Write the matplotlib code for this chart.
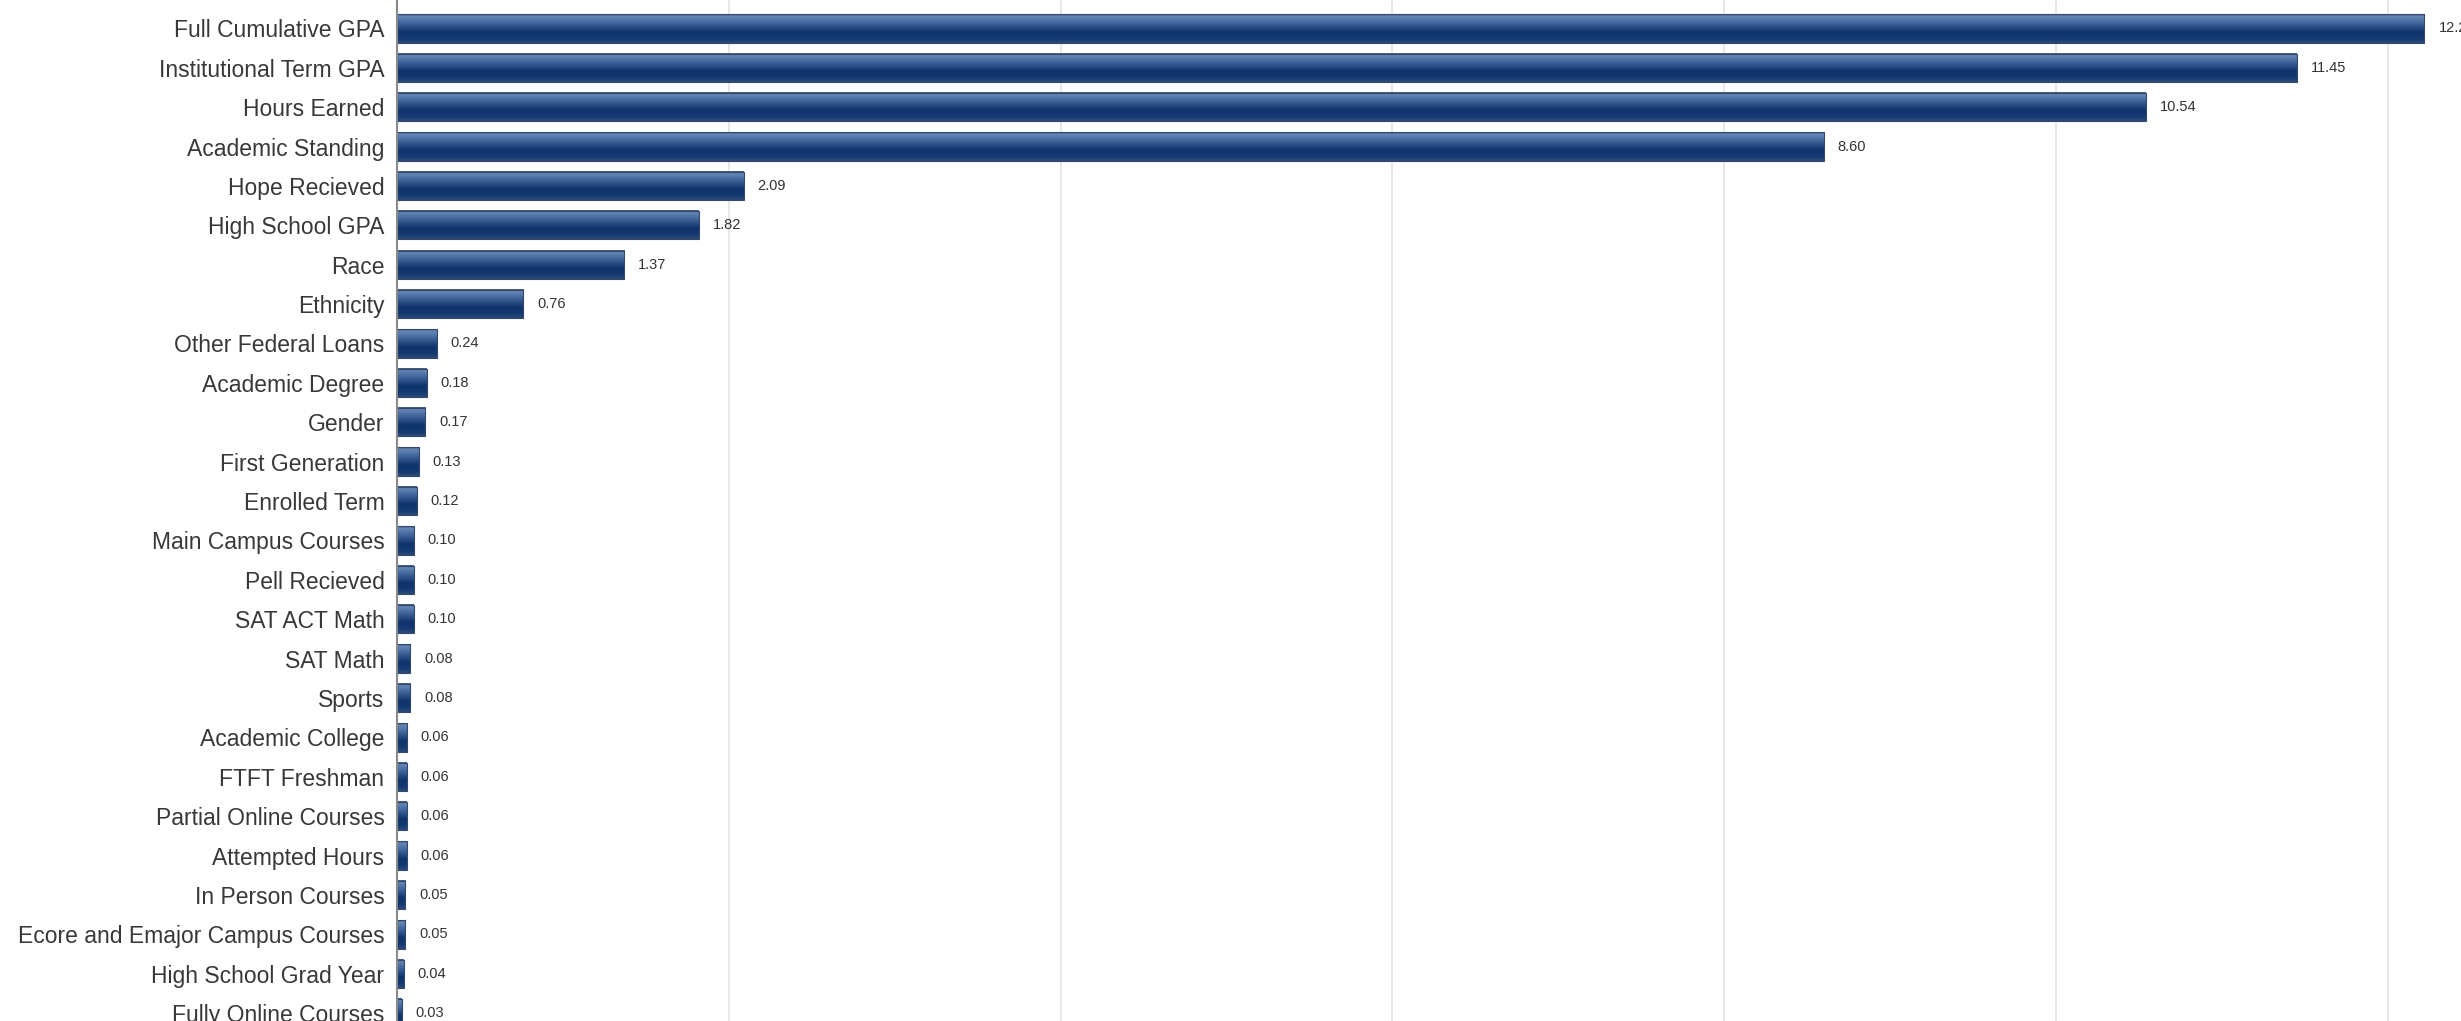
import numpy as np
import matplotlib
matplotlib.use('Agg')
import matplotlib.pyplot as plt
from matplotlib.colors import LinearSegmentedColormap

# Feature importance values
features = ['Full Cumulative GPA', 'Institutional Term GPA', 'Hours Earned', 'Academic Standing',
            'Hope Recieved', 'High School GPA', 'Race', 'Ethnicity', 'Other Federal Loans',
            'Academic Degree', 'Gender', 'First Generation', 'Enrolled Term', 'Main Campus Courses',
            'Pell Recieved', 'SAT ACT Math', 'SAT Math', 'Sports', 'Academic College',
            'FTFT Freshman', 'Partial Online Courses', 'Attempted Hours', 'In Person Courses',
            'Ecore and Emajor Campus Courses', 'High School Grad Year', 'Fully Online Courses']
importance = [12.22, 11.45, 10.54, 8.60, 2.09, 1.82, 1.37, 0.76, 0.24, 0.18, 0.17, 0.13, 0.12,
              0.10, 0.10, 0.10, 0.08, 0.08, 0.06, 0.06, 0.06, 0.06, 0.05, 0.05, 0.04, 0.03]
grid_ticks = [2, 4, 6, 8, 10, 12]

plt.rcParams['font.family'] = ['Liberation Sans', 'DejaVu Sans']

# vertical shading of the bars, top to bottom
bar_cmap = LinearSegmentedColormap.from_list('bar', [
    (0.0, '#3d5676'), (0.08, '#6688b6'), (0.3, '#41669b'),
    (0.62, '#0f336b'), (0.85, '#143a73'), (1.0, '#2d4b77')])

fig = plt.figure(figsize=(24.61, 10.21), dpi=100)
left = 397 / 2461
ax = fig.add_axes([left, 0, 1 - left, 1])

y = np.arange(len(features))
bars = ax.barh(y, importance, height=0.72, facecolor='none', edgecolor='#34496a',
               linewidth=0.8, zorder=3)

grad = np.linspace(0, 1, 256).reshape(-1, 1)
for b in bars:
    x0, y0 = b.get_xy()
    w, h = b.get_width(), b.get_height()
    ax.imshow(grad, cmap=bar_cmap, extent=[x0, x0 + w, y0 + h, y0], origin='upper',
              aspect='auto', interpolation='bilinear', zorder=2)

# value labels (the top one runs off the right edge, as in the original)
for yi, v in zip(y, importance):
    ax.annotate(f'{v:.2f}', xy=(v, yi), xytext=(10, 0), textcoords='offset points',
                va='center', ha='left', fontsize=10.5, color='#333333', zorder=4)

ax.set_xlim(0, 12.44)
ax.set_ylim(25.2, -0.72)
ax.set_yticks(y)
ax.set_yticklabels(features, fontsize=16.5, color='#383838')
ax.tick_params(axis='y', length=0, pad=9)
ax.set_xticks(grid_ticks)
ax.tick_params(axis='x', length=0, labelbottom=False)
ax.grid(axis='x', color='#e3e3e3', linewidth=1.2, zorder=0)
ax.set_axisbelow(True)
for s in ['top', 'right', 'bottom']:
    ax.spines[s].set_visible(False)
ax.spines['left'].set_color('#8a8a8a')
ax.spines['left'].set_linewidth(1.5)
ax.spines['left'].set_zorder(5)

fig.savefig('out.png', dpi=100)
